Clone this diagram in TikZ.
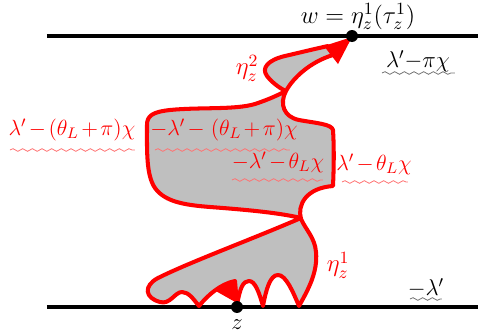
\documentclass[tikz,border=0pt]{standalone}
\usepackage{fix-cm}
\usetikzlibrary{decorations.pathmorphing}
\begin{document}
\begin{tikzpicture}[x=0.02cm,y=-0.02cm,
  bline/.style={line width=2.3pt,black},
  curve/.style={line width=2.3pt,red,fill=black!25,line join=round},
  rlab/.style={text=red,inner sep=0pt,font=\fontsize{12.5}{15}\selectfont},
  elab/.style={text=red,inner sep=0pt,font=\fontsize{14}{16}\selectfont},
  blab/.style={text=black,inner sep=0pt,font=\fontsize{13}{15}\selectfont},
  wavy/.style={decorate,decoration={snake,amplitude=0.75pt,segment length=5.5pt},line width=0.45pt},
  dot/.style={circle,fill=black,inner sep=0pt,minimum size=0.24cm}]
\medmuskip=2mu
\useasboundingbox (0,0) rectangle (478,335);
% horizontal lines
\coordinate (tl) at (47,36); \coordinate (tr) at (478,36);
\coordinate (bl) at (47,307); \coordinate (br) at (478,307);
\draw[bline] (tl) -- (tr);
\draw[bline] (bl) -- (br);
% hull
\draw[curve] (237,305)
 .. controls (240,288) and (243,281) .. (249,281)
 .. controls (255,281) and (259,292) .. (263,306)
 .. controls (266,290) and (270,275) .. (278,275)
 .. controls (286,275) and (293,292) .. (299,306)
 .. controls (308,290) and (318,272) .. (316,252)
 .. controls (315,238) and (306,230) .. (301,219)
 .. controls (297,205) and (306,188) .. (333,186)
 .. controls (334,165) and (334,145) .. (333,130)
 .. controls (332,124) and (315,123) .. (299,120)
 .. controls (284,117) and (279,104) .. (286,91)
 .. controls (293,78) and (310,62) .. (333,55)
 -- (328,46)
 .. controls (310,50) and (298,53) .. (285,56)
 .. controls (268,60) and (261,68) .. (267,76)
 .. controls (273,84) and (283,90) .. (286,91)
 .. controls (278,95) and (270,99) .. (255,104)
 .. controls (235,110) and (200,107) .. (170,110)
 .. controls (152,112) and (147,116) .. (147,125)
 .. controls (147,150) and (146,175) .. (155,188)
 .. controls (165,202) and (185,205) .. (210,207)
 .. controls (250,210) and (280,213) .. (301,218)
 .. controls (250,240) and (190,262) .. (158,278)
 .. controls (143,286) and (145,298) .. (160,302)
 .. controls (170,305) and (175,292) .. (182,292)
 .. controls (189,292) and (194,300) .. (199,306)
 .. controls (207,296) and (220,284) .. (235,281)
 -- cycle;
% small red wedge at z and arrowhead at w
\fill[red] (214,290) -- (236,280) -- (237,303) -- cycle;
\fill[red] (352,37) -- (324,46) -- (338,64) -- cycle;
% dots
\node[dot] (w) at (352,36) {};
\node[dot] (z) at (237,307) {};
% labels
\node[blab,anchor=south] (wl) at (358,30) {\fontsize{14}{16}\selectfont$w=\eta^1_z(\tau^1_z)$};
\node[blab] (l1) at (418,61) {$\lambda'{-}\pi\chi$};
\draw[wavy,black!55] (382,73) -- (455,73);
\node[elab] (e2) at (247,68) {$\eta^2_z$};
\node[rlab] (l2) at (72,130) {$\lambda'-(\theta_L+\pi)\chi$};
\draw[wavy,red!55] (10,150) -- (135,150);
\node[rlab] (l3) at (224,130) {$-\lambda'-\,(\theta_L+\pi)\chi$};
\draw[wavy,red!55] (155,150) -- (290,150);
\node[rlab] (l4) at (278,162) {$-\lambda'-\theta_L\chi$};
\draw[wavy,red!55] (232,180) -- (323,180);
\node[rlab] (l5) at (374,164) {$\lambda'-\theta_L\chi$};
\draw[wavy,red!55] (342,182) -- (408,182);
\node[elab] (e1) at (338,265) {$\eta^1_z$};
\node[blab] (l6) at (426,288) {$-\lambda'$};
\draw[wavy,black!55] (410,299) -- (442,299);
\node[blab] (zl) at (237,325) {$z$};
\end{tikzpicture}
\end{document}
